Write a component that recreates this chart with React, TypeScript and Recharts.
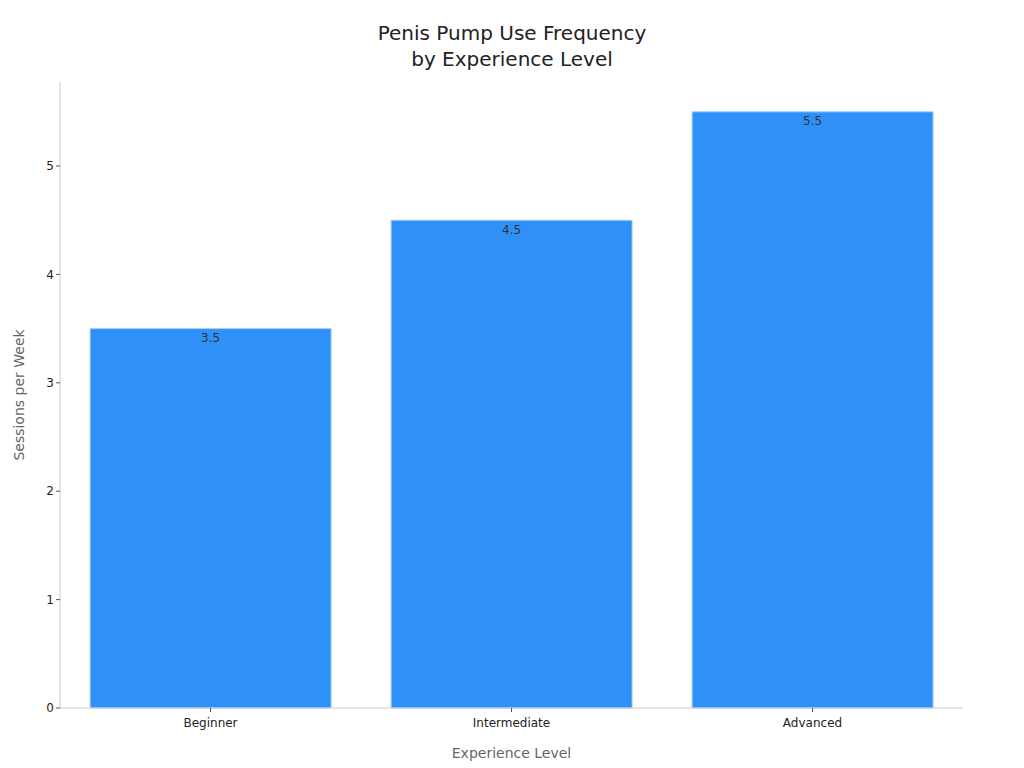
import { Bar, BarChart, LabelList, XAxis, YAxis } from "recharts";

const levels = ["Beginner", "Intermediate", "Advanced"];
const sessions = [3.5, 4.5, 5.5];
const yTicks = [0, 1, 2, 3, 4, 5];

const data = levels.map((level, i) => ({ level, sessions: sessions[i] }));

const font = "'DejaVu Sans', sans-serif";

export default function App() {
  return (
    <div
      style={{
        position: "absolute",
        left: 0,
        top: 0,
        width: 1024,
        height: 768,
        background: "#fff",
        fontFamily: font,
      }}
    >
      <div
        style={{
          position: "absolute",
          top: 20,
          width: 1024,
          textAlign: "center",
          fontSize: 20,
          lineHeight: "26px",
          color: "#222",
        }}
      >
        Penis Pump Use Frequency
        <br />
        by Experience Level
      </div>
      <BarChart
        width={1024}
        height={768}
        data={data}
        margin={{ top: 82, right: 61, left: 0, bottom: 0 }}
        barCategoryGap="10%"
        style={{ fontFamily: font }}
      >
        <XAxis
          dataKey="level"
          height={60}
          stroke="#ccc"
          tick={{ fill: "#222", fontSize: 12 }}
          tickLine={{ stroke: "#555" }}
          tickSize={4}
          tickMargin={6}
          label={{
            value: "Experience Level",
            position: "insideBottom",
            offset: 10,
            fill: "#666",
            fontSize: 14,
          }}
        />
        <YAxis
          width={60}
          domain={[0, 5.775]}
          ticks={yTicks}
          stroke="#ccc"
          tick={{ fill: "#222", fontSize: 12 }}
          tickLine={{ stroke: "#555" }}
          tickSize={4}
          label={{
            value: "Sessions per Week",
            angle: -90,
            position: "insideLeft",
            offset: 19,
            fill: "#666",
            fontSize: 14,
            style: { textAnchor: "middle" },
          }}
        />
        <Bar
          dataKey="sessions"
          fill="#2f91f8"
          stroke="#a6d0fb"
          strokeWidth={1}
          isAnimationActive={false}
        >
          <LabelList
            dataKey="sessions"
            position="insideTop"
            offset={5}
            fill="#333"
            fontSize={12}
          />
        </Bar>
      </BarChart>
    </div>
  );
}
